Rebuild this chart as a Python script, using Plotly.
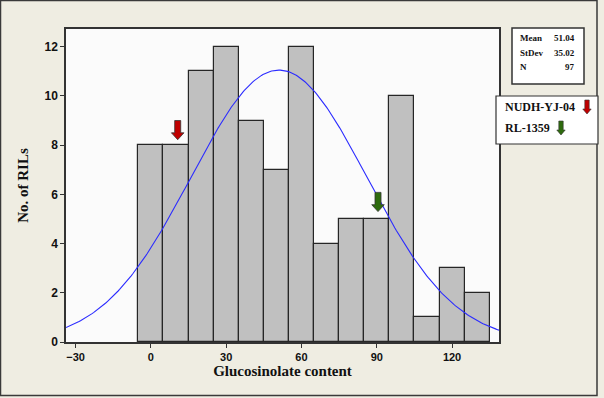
import numpy as np
import plotly.graph_objects as go

# ---- data ----
bin_centers = [0, 10, 20, 30, 40, 50, 60, 70, 80, 90, 100, 110, 120, 130]
counts = [8, 8, 11, 12, 9, 7, 12, 4, 5, 5, 10, 1, 3, 2]
bin_width = 10
mean_val = 51.04
sd_val = 35.02
n_val = 97
x_ticks = [-30, 0, 30, 60, 90, 120]
y_ticks = [0, 2, 4, 6, 8, 10, 12]
marker_names = ["NUDH-YJ-04", "RL-1359"]
marker_x = [10.7, 90.5]
marker_top = [9.0, 6.08]
marker_colors = ["#c00000", "#2e6b0e"]

# ---- layout geometry (pixels) ----
W, H = 604, 398
L, R, T, B = 66, 499, 29, 342
X0, X1 = -33.8, 138.7
Y0, Y1 = 0, 12.72


def px(xp):
    return (xp - L) / (R - L)


def py(yp):
    return (B - yp) / (B - T)


xs = np.linspace(X0, X1, 300)
pdf = n_val * bin_width / (sd_val * np.sqrt(2 * np.pi)) * np.exp(-0.5 * ((xs - mean_val) / sd_val) ** 2)

fig = go.Figure()
fig.add_trace(go.Bar(x=bin_centers, y=counts, width=bin_width,
                     marker=dict(color="#c0c0c0", line=dict(color="#262626", width=1.2)),
                     hoverinfo="x+y"))
fig.add_trace(go.Scatter(x=xs, y=pdf, mode="lines", line=dict(color="#2b2bff", width=1.1)))

shapes = []
# outer frame
shapes.append(dict(type="rect", xref="paper", yref="paper", x0=px(0.5), x1=px(597), y0=py(0.5), y1=py(395.5),
                   line=dict(color="#3a3a3a", width=1.5), layer="below"))

# marker arrows on plot (data units)
sx, hx = 1.2, 2.5      # shaft / head half-widths (x units)
tot, head = 0.78, 0.28  # total height / head height (y units)
for xm, yt, col in zip(marker_x, marker_top, marker_colors):
    yb = yt - tot
    yh = yb + head
    path = (f"M {xm - sx},{yt} L {xm + sx},{yt} L {xm + sx},{yh} L {xm + hx},{yh} "
            f"L {xm},{yb} L {xm - hx},{yh} L {xm - sx},{yh} Z")
    shapes.append(dict(type="path", xref="x", yref="y", path=path, fillcolor=col,
                       line=dict(color="#333333", width=0.8)))

# stats box and legend box
shapes.append(dict(type="rect", xref="paper", yref="paper", x0=px(512), x1=px(584), y0=py(84), y1=py(28),
                   fillcolor="#ffffff", line=dict(color="#333333", width=1.5)))
shapes.append(dict(type="rect", xref="paper", yref="paper", x0=px(496), x1=px(598), y0=py(144), y1=py(96),
                   fillcolor="#ffffff", line=dict(color="#333333", width=1.2)))


def legend_arrow(cx, ytop, ybot, col):
    s, h = 2.2, 4.2
    yh = ybot - 5
    pts = [(cx - s, ytop), (cx + s, ytop), (cx + s, yh), (cx + h, yh), (cx, ybot), (cx - h, yh), (cx - s, yh)]
    path = "M " + " L ".join(f"{px(a)},{py(b)}" for a, b in pts) + " Z"
    return dict(type="path", xref="paper", yref="paper", path=path, fillcolor=col,
                line=dict(color="#333333", width=0.6))


shapes.append(legend_arrow(587, 100, 114, marker_colors[0]))
shapes.append(legend_arrow(561, 121, 135, marker_colors[1]))

ann = []
serif = "Liberation Serif"
stats_labels = ["Mean", "StDev", "N"]
stats_vals = [f"{mean_val:.2f}", f"{sd_val:.2f}", f"{n_val}"]
for i, (lab, val) in enumerate(zip(stats_labels, stats_vals)):
    yy = py(38 + i * 14.5)
    ann.append(dict(xref="paper", yref="paper", x=px(518), y=yy, text=f"<b>{lab}</b>", showarrow=False,
                    xanchor="left", yanchor="middle", font=dict(family=serif, size=9, color="#111")))
    ann.append(dict(xref="paper", yref="paper", x=px(577), y=yy, text=f"<b>{val}</b>", showarrow=False,
                    xanchor="right", yanchor="middle", font=dict(family=serif, size=9, color="#111")))
ann.append(dict(xref="paper", yref="paper", x=px(503), y=py(107), text=f"<b>{marker_names[0]}</b>", showarrow=False,
                xanchor="left", yanchor="middle", font=dict(family=serif, size=12, color="#111")))
ann.append(dict(xref="paper", yref="paper", x=px(503), y=py(128), text=f"<b>{marker_names[1]}</b>", showarrow=False,
                xanchor="left", yanchor="middle", font=dict(family=serif, size=12, color="#111")))

fig.update_layout(
    width=W, height=H, autosize=False,
    margin=dict(l=L, r=W - R, t=T, b=H - B, pad=0, autoexpand=False),
    paper_bgcolor="#efede2", plot_bgcolor="#fbfbfb",
    showlegend=False, bargap=0,
    shapes=shapes, annotations=ann,
    xaxis=dict(range=[X0, X1], tickvals=x_ticks, ticks="outside", ticklen=4, tickcolor="#333",
               showline=True, linecolor="#333", linewidth=1.5, mirror=True, showgrid=False, zeroline=False,
               automargin=False,
               tickfont=dict(family="Liberation Sans", size=11, color="#111", weight="bold"),
               title=dict(text="<b>Glucosinolate content</b>", standoff=3,
                          font=dict(family=serif, size=15, color="#111"))),
    yaxis=dict(range=[Y0, Y1], tickvals=y_ticks, ticks="outside", ticklen=4, tickcolor="#333",
               showline=True, linecolor="#333", linewidth=1.5, mirror=True, showgrid=False, zeroline=False,
               automargin=False,
               tickfont=dict(family="Liberation Sans", size=12, color="#111", weight="bold"),
               title=dict(text="<b>No. of RILs</b>", standoff=12,
                          font=dict(family=serif, size=15, color="#111"))),
)

fig.write_html("out.html", config={"displayModeBar": False},
               post_script="document.body.style.margin='0';document.body.style.overflow='hidden';")
